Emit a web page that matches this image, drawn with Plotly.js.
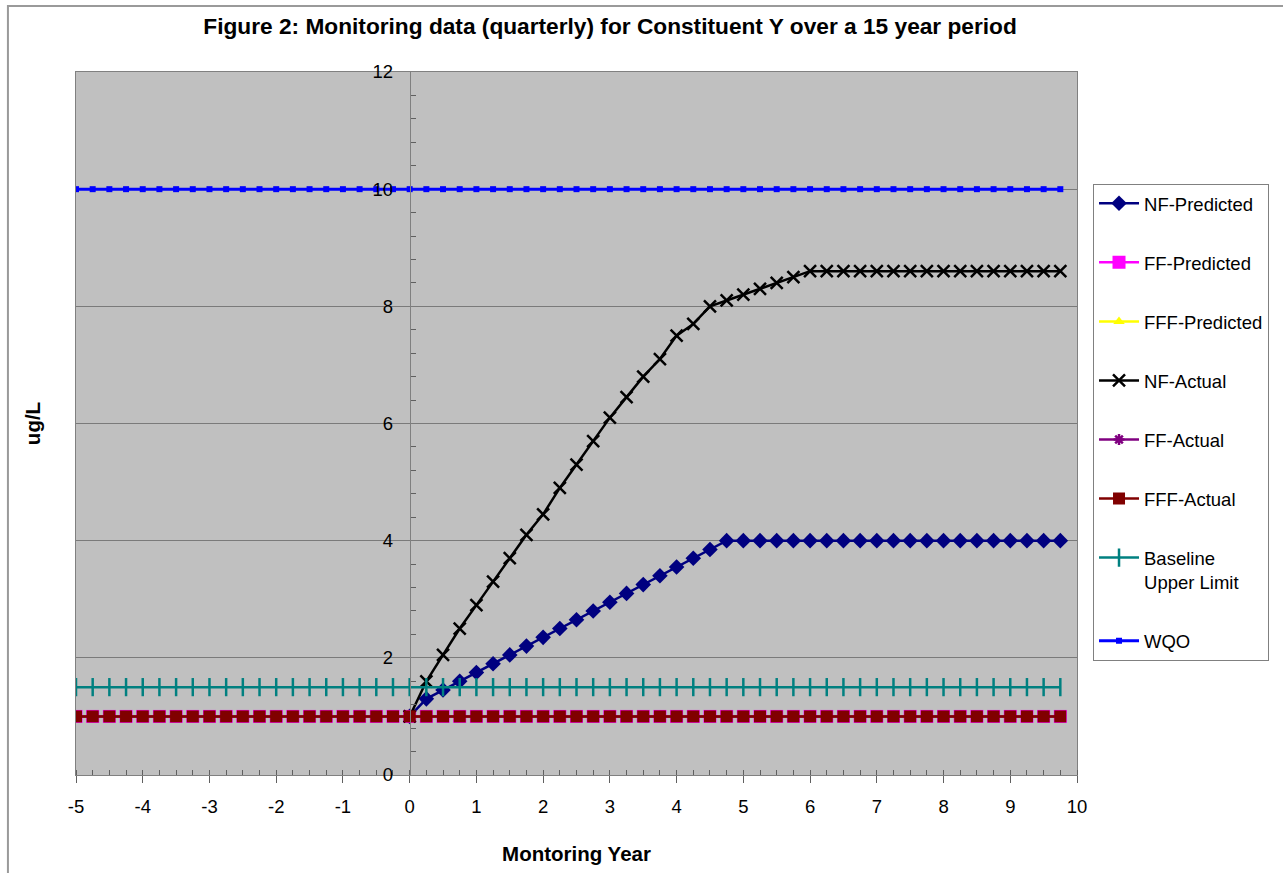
<!DOCTYPE html>
<html>
<head>
<meta charset="utf-8">
<script src="https://cdn.plot.ly/plotly-3.0.1.min.js"></script>
<style>html,body{margin:0;padding:0;background:#fff;}#chart{width:1283px;height:873px;}</style>
</head>
<body>
<div id="chart"></div>
<script>
// Quarterly monitoring years
const years = [-5,-4.75,-4.5,-4.25,-4,-3.75,-3.5,-3.25,-3,-2.75,-2.5,-2.25,-2,-1.75,-1.5,-1.25,-1,-0.75,-0.5,-0.25,
  0,0.25,0.5,0.75,1,1.25,1.5,1.75,2,2.25,2.5,2.75,3,3.25,3.5,3.75,4,4.25,4.5,4.75,
  5,5.25,5.5,5.75,6,6.25,6.5,6.75,7,7.25,7.5,7.75,8,8.25,8.5,8.75,9,9.25,9.5,9.75];

// NF series are only visible from year 0 onward (before that they sit under the y=1 series)
const nfPredicted = [null,null,null,null,null,null,null,null,null,null,null,null,null,null,null,null,null,null,null,null,
  1,1.3,1.45,1.6,1.75,1.9,2.05,2.2,2.35,2.5,2.65,2.8,2.95,3.1,3.25,3.4,3.55,3.7,3.85,4,
  4,4,4,4,4,4,4,4,4,4,4,4,4,4,4,4,4,4,4,4];
const ffPredicted = [1,1,1,1,1,1,1,1,1,1,1,1,1,1,1,1,1,1,1,1,1,1,1,1,1,1,1,1,1,1,
  1,1,1,1,1,1,1,1,1,1,1,1,1,1,1,1,1,1,1,1,1,1,1,1,1,1,1,1,1,1];
const fffPredicted = [1,1,1,1,1,1,1,1,1,1,1,1,1,1,1,1,1,1,1,1,1,1,1,1,1,1,1,1,1,1,
  1,1,1,1,1,1,1,1,1,1,1,1,1,1,1,1,1,1,1,1,1,1,1,1,1,1,1,1,1,1];
const nfActual = [null,null,null,null,null,null,null,null,null,null,null,null,null,null,null,null,null,null,null,null,
  1,1.6,2.05,2.5,2.9,3.3,3.7,4.1,4.45,4.9,5.3,5.7,6.1,6.45,6.8,7.1,7.5,7.7,8.0,8.1,
  8.2,8.3,8.4,8.5,8.6,8.6,8.6,8.6,8.6,8.6,8.6,8.6,8.6,8.6,8.6,8.6,8.6,8.6,8.6,8.6];
const ffActual = [1,1,1,1,1,1,1,1,1,1,1,1,1,1,1,1,1,1,1,1,1,1,1,1,1,1,1,1,1,1,
  1,1,1,1,1,1,1,1,1,1,1,1,1,1,1,1,1,1,1,1,1,1,1,1,1,1,1,1,1,1];
const fffActual = [1,1,1,1,1,1,1,1,1,1,1,1,1,1,1,1,1,1,1,1,1,1,1,1,1,1,1,1,1,1,
  1,1,1,1,1,1,1,1,1,1,1,1,1,1,1,1,1,1,1,1,1,1,1,1,1,1,1,1,1,1];
const baselineUpper = [1.5,1.5,1.5,1.5,1.5,1.5,1.5,1.5,1.5,1.5,1.5,1.5,1.5,1.5,1.5,1.5,1.5,1.5,1.5,1.5,
  1.5,1.5,1.5,1.5,1.5,1.5,1.5,1.5,1.5,1.5,1.5,1.5,1.5,1.5,1.5,1.5,1.5,1.5,1.5,1.5,
  1.5,1.5,1.5,1.5,1.5,1.5,1.5,1.5,1.5,1.5,1.5,1.5,1.5,1.5,1.5,1.5,1.5,1.5,1.5,1.5];
const wqo = [10,10,10,10,10,10,10,10,10,10,10,10,10,10,10,10,10,10,10,10,
  10,10,10,10,10,10,10,10,10,10,10,10,10,10,10,10,10,10,10,10,
  10,10,10,10,10,10,10,10,10,10,10,10,10,10,10,10,10,10,10,10];

const seriesNames = ['NF-Predicted','FF-Predicted','FFF-Predicted','NF-Actual','FF-Actual','FFF-Actual','Baseline<br>Upper Limit','WQO'];

// X-axis tick labels (plain hyphen minus as in the original)
const xTickVals = [-5,-4,-3,-2,-1,0,1,2,3,4,5,6,7,8,9,10];
const xTickText = ['-5','-4','-3','-2','-1','0','1','2','3','4','5','6','7','8','9','10'];

const FONT = 'Arial, "Liberation Sans", sans-serif';

function tr(i, y, color, marker, lineWidth, extra) {
  const t = {
    type: 'scatter', mode: 'lines+markers', x: years, y: y, name: seriesNames[i],
    legendgroup: 'g' + i,
    line: {color: color, width: lineWidth},
    marker: Object.assign({color: color}, marker)
  };
  return Object.assign(t, extra || {});
}

const traces = [
  tr(0, nfPredicted, '#000080', {symbol: 'diamond', size: 12}, 2.5),
  tr(1, ffPredicted, '#FF00FF', {symbol: 'square', size: 13}, 2.5),
  tr(2, fffPredicted, '#FFFF00', {symbol: 'triangle-up', size: 10}, 2.5),
  tr(3, nfActual, '#000000', {symbol: 'x-thin', size: 12, line: {color: '#000000', width: 2.5}}, 2.5),
  tr(4, ffActual, '#800080', {symbol: 'asterisk', size: 9, line: {color: '#800080', width: 2.5}}, 2.5),
  tr(5, fffActual, '#800000', {symbol: 'square', size: 12}, 2.5),
  tr(6, baselineUpper, '#008080', {symbol: 'line-ns', size: 13, line: {color: '#008080', width: 2.5}}, 2.5),
  tr(7, wqo, '#0000FF', {symbol: 'square', size: 6}, 3, {yaxis: 'y2'})
];

const layout = {
  width: 1283, height: 873,
  margin: {l: 76, r: 206, t: 72, b: 98},
  paper_bgcolor: '#FFFFFF',
  plot_bgcolor: '#C0C0C0',
  font: {family: FONT, size: 18.5, color: '#000000'},
  showlegend: true,
  title: {
    text: '<b>Figure 2: Monitoring data (quarterly) for Constituent Y over a 15 year period</b>',
    font: {family: FONT, size: 22.7, color: '#000000'},
    xref: 'container', x: 0.4755, xanchor: 'center',
    yref: 'container', y: 0.97, yanchor: 'middle'
  },
  xaxis: {
    range: [-5, 10],
    tickmode: 'array', tickvals: xTickVals, ticktext: xTickText,
    showgrid: false, zeroline: false,
    showline: true, mirror: true, linecolor: '#808080', linewidth: 1,
    ticks: 'outside', ticklen: 7, tickcolor: '#606060', tickwidth: 1,
    minor: {dtick: 0.25, tick0: 0, ticks: 'inside', ticklen: 5, tickcolor: '#606060', showgrid: false},
    tickfont: {family: FONT, size: 18.5, color: '#000000'},
    ticklabelstandoff: 8,
    title: {text: '<b>Montoring Year</b>', font: {family: FONT, size: 20.5, color: '#000000'}, standoff: 30},
    fixedrange: true
  },
  yaxis: {
    range: [0, 12], dtick: 2,
    showgrid: true, gridcolor: '#7A7A7A', gridwidth: 1,
    zeroline: false,
    showline: true, mirror: true, linecolor: '#808080', linewidth: 1,
    showticklabels: false, ticks: '',
    title: {text: '<b>ug/L</b>', font: {family: FONT, size: 20.5, color: '#000000'}, standoff: 28},
    fixedrange: true
  },
  yaxis2: {
    overlaying: 'y', anchor: 'free', position: 1/3, side: 'left',
    range: [0, 12], dtick: 2,
    showgrid: false, zeroline: false,
    showline: true, linecolor: '#808080', linewidth: 1,
    ticks: '',
    minor: {dtick: 0.4, ticks: 'inside', ticklen: 5, tickcolor: '#606060', showgrid: false},
    tickfont: {family: FONT, size: 18.5, color: '#000000'},
    ticklabelstandoff: 13,
    fixedrange: true
  },
  legend: {
    x: 1.016, xanchor: 'left', y: 0.841, yanchor: 'top',
    bgcolor: '#FFFFFF', bordercolor: '#808080', borderwidth: 1,
    font: {family: FONT, size: 18.5, color: '#000000'},
    traceorder: 'grouped', tracegroupgap: 32, valign: 'top',
    itemwidth: 40
  },
  shapes: [
    {type: 'rect', xref: 'paper', yref: 'paper', x0: -0.068, x1: 1.3, y0: -0.2, y1: 1.0939,
     line: {color: '#9A9A9A', width: 2}, fillcolor: 'rgba(0,0,0,0)', layer: 'below'}
  ]
};

Plotly.newPlot('chart', traces, layout, {staticPlot: true, displayModeBar: false});
</script>
</body>
</html>
